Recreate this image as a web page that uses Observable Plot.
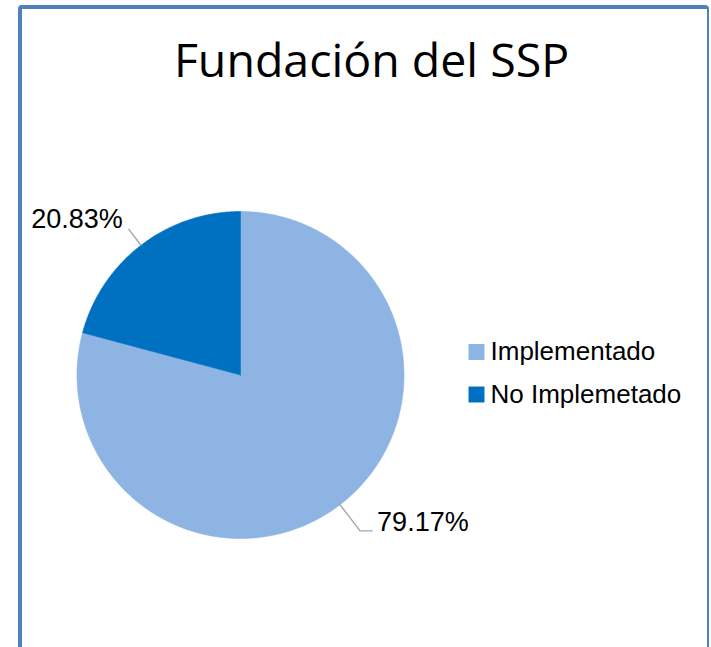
<!DOCTYPE html>
<html><head><meta charset="utf-8">
<script src="https://cdn.jsdelivr.net/npm/d3@7"></script>
<script src="https://cdn.jsdelivr.net/npm/@observablehq/plot@0.6"></script>
<style>
html,body{margin:0;padding:0;background:#fff;}
#wrap{position:relative;width:711px;height:647px;overflow:hidden;}
#frame{position:absolute;left:18px;top:5px;width:691px;height:700px;box-sizing:border-box;border:solid #4F81BD;border-width:4px 2px 0 4px;border-radius:4px 4px 0 0;}
#title{position:absolute;left:0;top:36px;width:743px;text-align:center;font-family:"Open Sans",sans-serif;font-size:46.5px;line-height:46.5px;color:#000;white-space:nowrap;}
#chart{position:absolute;left:0;top:0;}
</style></head><body>
<div id="wrap"><div id="chart"></div><div id="frame"></div><div id="title">Fundación del SSP</div></div>
<script>
const categories = ["Implementado", "No Implemetado"];
const values = [79.17, 20.83];
const labels = ["79.17%", "20.83%"];
const colors = ["#8DB4E2", "#0070C0"];

// layout
const W = 711, H = 647;
const cx = 240, cy = 374.5, R = 163.5;
const leaderExt = [33, 20];
const legendX = 476, legendY0 = 351.5, legendDy = 42.5;

const polar = (a, r) => ({x: cx + r * Math.sin(a), y: cy - r * Math.cos(a)});
const arcs = d3.pie().sort(null).value(d => d)(values);

const slicePts = [];
arcs.forEach((a, i) => {
  const cat = categories[i];
  slicePts.push({category: cat, x: cx, y: cy});
  const n = Math.max(2, Math.ceil((a.endAngle - a.startAngle) / (Math.PI / 360)));
  for (let k = 0; k <= n; k++) {
    const t = a.startAngle + (a.endAngle - a.startAngle) * k / n;
    slicePts.push({category: cat, ...polar(t, R)});
  }
  slicePts.push({category: cat, x: cx, y: cy});
});

const leaderPts = [];
const labelPts = [];
arcs.forEach((a, i) => {
  const mid = (a.startAngle + a.endAngle) / 2;
  const p0 = polar(mid, R), p1 = polar(mid, R + leaderExt[i]);
  const right = Math.sin(mid) > 0;
  leaderPts.push({category: categories[i], ...p0});
  leaderPts.push({category: categories[i], ...p1});
  if (right) {
    leaderPts.push({category: categories[i], x: p1.x + 12, y: p1.y});
    labelPts.push({text: labels[i], x: p1.x + 17, y: p1.y, side: "right"});
  } else {
    labelPts.push({text: labels[i], x: p1.x - 6, y: p1.y - 1, side: "left"});
  }
});

const legendData = categories.map((c, i) => ({category: c, x: legendX, y: legendY0 + i * legendDy}));

const chart = Plot.plot({
  width: W, height: H, margin: 0,
  x: {domain: [0, W], range: [0, W], axis: null},
  y: {domain: [0, H], range: [0, H], axis: null},
  color: {domain: categories, range: colors},
  style: {background: "transparent", overflow: "visible"},
  marks: [
    Plot.line(slicePts, {x: "x", y: "y", z: "category", fill: "category", stroke: "category", strokeWidth: 0.6, curve: "linear"}),
    Plot.line(leaderPts, {x: "x", y: "y", z: "category", stroke: "#A6A6A6", strokeWidth: 1.4}),
    Plot.text(labelPts.filter(d => d.side === "right"), {x: "x", y: "y", text: "text", textAnchor: "start", lineAnchor: "bottom", fontSize: 27, fontFamily: "Liberation Sans, Arial, sans-serif", fill: "#000"}),
    Plot.text(labelPts.filter(d => d.side === "left"), {x: "x", y: "y", text: "text", textAnchor: "end", lineAnchor: "bottom", fontSize: 27, fontFamily: "Liberation Sans, Arial, sans-serif", fill: "#000"}),
    Plot.dot(legendData, {x: "x", y: "y", fill: "category", symbol: "square", r: 9}),
    Plot.text(legendData, {x: d => d.x + 14, y: "y", text: "category", textAnchor: "start", lineAnchor: "middle", fontSize: 26, fontFamily: "Liberation Sans, Arial, sans-serif", fill: "#000"})
  ]
});
document.getElementById("chart").appendChild(chart);
</script>
</body></html>
